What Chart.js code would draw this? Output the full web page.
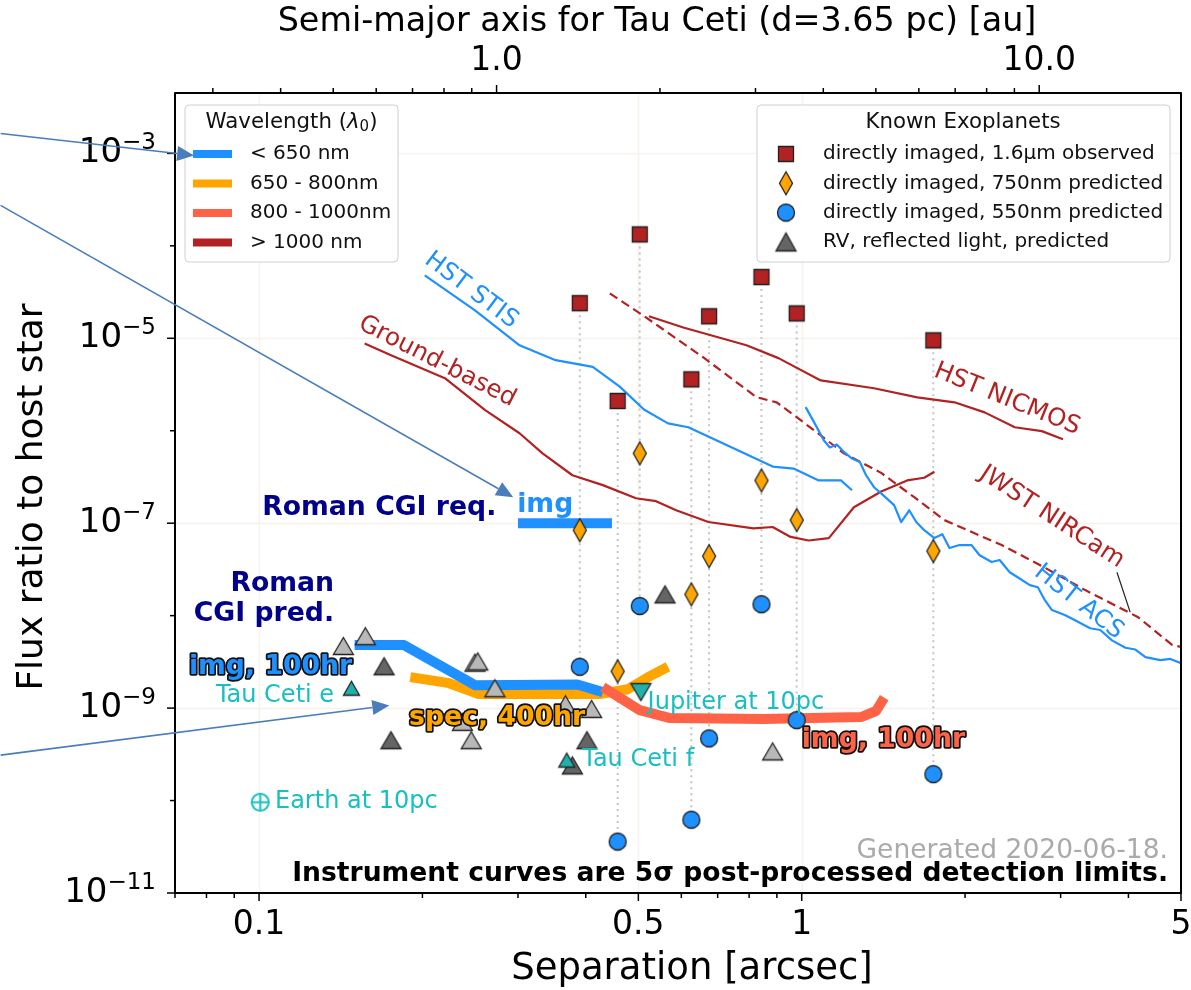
<!DOCTYPE html>
<html>
<head>
<meta charset="utf-8">
<script src="https://cdn.jsdelivr.net/npm/chart.js@4.4.1/dist/chart.umd.min.js"></script>
<style>
  html, body { margin: 0; padding: 0; background: #fff; }
  canvas { display: block; }
</style>
</head>
<body>
<canvas id="chart" width="1191" height="990"></canvas>
<script>
// ---------- data (separation in arcsec, flux ratio) ----------
const planetSep  = [0.390, 0.458, 0.503, 0.626, 0.675, 0.843, 0.979, 1.748];
const observed16 = [2.4e-5, 2.1e-6, 1.33e-4, 3.6e-6, 1.73e-5, 4.6e-5, 1.86e-5, 9.5e-6];
const pred750    = [8.4e-8, 2.5e-9, 5.7e-7, 1.7e-8, 4.4e-8, 2.9e-7, 1.08e-7, 5.0e-8];
const pred550    = [2.8e-9, 3.6e-11, 1.27e-8, 6.2e-11, 4.7e-10, 1.33e-8, 7.4e-10, 1.93e-10];

const rvLightSep  = [0.143, 0.157, 0.250, 0.253, 0.272, 0.246, 0.237, 0.367, 0.410, 0.884];
const rvLightFlux = [4.7e-9, 6.0e-9, 3.1e-9, 3.2e-9, 1.64e-9, 4.5e-10, 7.1e-10, 1.1e-9, 9.8e-10, 3.4e-10];
const rvDarkSep   = [0.170, 0.175, 0.402, 0.378, 0.560];
const rvDarkFlux  = [2.84e-9, 4.5e-10, 4.5e-10, 2.4e-10, 1.7e-8];
const tauCetiSep  = [0.148, 0.369];
const tauCetiFlux = [1.64e-9, 2.74e-10];
const jupiterSep  = [0.5055];
const jupiterFlux = [1.49e-9];
const earthSep    = [0.1005];
const earthFlux   = [9.6e-11];

const stisSep  = [0.202, 0.250, 0.302, 0.352, 0.412, 0.462, 0.512, 0.567, 0.618, 0.696, 0.822, 0.884, 0.966, 1.075, 1.181, 1.238];
const stisFlux = [4.8e-5, 2.0e-5, 8.4e-6, 5.8e-6, 4.9e-6, 3.0e-6, 1.7e-6, 1.2e-6, 1.09e-6, 7.9e-7, 5.0e-7, 4.1e-7, 3.9e-7, 2.9e-7, 2.9e-7, 2.27e-7];

const groundSep  = [0.1565, 0.1755, 0.220, 0.261, 0.302, 0.333, 0.378, 0.430, 0.495, 0.539, 0.587, 0.673, 0.815, 0.884, 0.954, 1.03, 1.122, 1.248, 1.401, 1.564, 1.682, 1.756];
const groundFlux = [8.8e-6, 6.5e-6, 3.7e-6, 1.67e-6, 9.4e-7, 5.7e-7, 3.3e-7, 2.58e-7, 1.86e-7, 1.73e-7, 1.38e-7, 1.03e-7, 8.8e-8, 9.1e-8, 7.1e-8, 6.5e-8, 6.9e-8, 1.49e-7, 2.2e-7, 2.9e-7, 3.1e-7, 3.6e-7];

const nicmosSep  = [0.523, 0.605, 0.791, 0.906, 1.084, 1.359, 1.633, 1.912, 2.173, 2.47, 2.77, 3.03];
const nicmosFlux = [1.73e-5, 1.31e-5, 8.4e-6, 6.1e-6, 3.5e-6, 2.88e-6, 2.3e-6, 2.03e-6, 1.58e-6, 1.09e-6, 9.9e-7, 8.1e-7];

const nircamSep  = [0.443, 0.510, 0.659, 0.826, 0.899, 0.979, 1.084, 1.196, 1.401, 1.612, 1.832, 2.336, 2.806, 3.33, 4.17, 4.82, 5.0];
const nircamFlux = [3.06e-5, 1.77e-5, 6.2e-6, 2.3e-6, 2.03e-6, 1.4e-6, 8.9e-7, 5.7e-7, 3.5e-7, 1.91e-7, 1.08e-7, 5.8e-8, 3.3e-8, 1.89e-8, 9.6e-9, 4.8e-9, 4.6e-9];

const acsSep  = [1.017, 1.061, 1.098, 1.127, 1.161, 1.196, 1.238, 1.28, 1.314, 1.359, 1.401, 1.48, 1.525, 1.578, 1.626, 1.682, 1.756, 1.816, 1.872, 1.953, 2.056, 2.127, 2.239, 2.316, 2.417, 2.5, 2.633, 2.724, 2.806, 2.892, 3.06, 3.19, 3.40, 3.55, 3.73, 3.95, 4.12, 4.30, 4.58, 4.78, 5.0];
const acsFlux = [1.8e-6, 1.15e-6, 7.9e-7, 6.6e-7, 7.1e-7, 5.9e-7, 5.0e-7, 4.6e-7, 3.3e-7, 2.45e-7, 2.1e-7, 1.57e-7, 1.03e-7, 1.38e-7, 1.03e-7, 8.4e-8, 6.9e-8, 7.6e-8, 5.4e-8, 5.8e-8, 5.8e-8, 4.5e-8, 3.8e-8, 4.0e-8, 2.95e-8, 2.6e-8, 2.14e-8, 2.03e-8, 1.47e-8, 1.15e-8, 1.01e-8, 8.9e-9, 7.3e-9, 7.0e-9, 5.4e-9, 4.5e-9, 4.3e-9, 3.56e-9, 3.3e-9, 3.4e-9, 3.06e-9];
const acsLeaderSep  = [3.81, 4.03];
const acsLeaderFlux = [2.95e-8, 1.09e-8];

const cgiReqSep   = [0.30, 0.447];
const cgiReqFlux  = [1e-7, 1e-7];
const cgiImgSep   = [0.150, 0.185, 0.250, 0.386, 0.430];
const cgiImgFlux  = [4.8e-9, 4.8e-9, 1.77e-9, 1.8e-9, 1.49e-9];
const cgiSpecSep  = [0.190, 0.224, 0.254, 0.424, 0.478, 0.521, 0.567];
const cgiSpecFlux = [2.16e-9, 1.86e-9, 1.42e-9, 1.42e-9, 1.6e-9, 2.16e-9, 2.8e-9];
const cgiRedSep   = [0.430, 0.503, 0.572, 0.85, 1.286, 1.371, 1.419];
const cgiRedFlux  = [1.69e-9, 9.5e-10, 7.8e-10, 7.6e-10, 8.0e-10, 9.3e-10, 1.3e-9];

// axes
const xMin = 0.07, xMax = 5, yMin = 1e-11, yMax = 4.5e-3, distPc = 3.65;
const xMajorTicks = [0.1, 0.5, 1, 5];
const xMajorLabels = ['0.1', '0.5', '1', '5'];
const xMinorTicks = [0.07, 0.08, 0.09, 0.2, 0.3, 0.4, 0.6, 0.7, 0.8, 0.9, 2, 3, 4];
const auMajorTicks = [1, 10];
const auMajorLabels = ['1.0', '10.0'];
const auMinorTicks = [0.3, 0.4, 0.5, 0.6, 0.7, 0.8, 0.9, 2, 3, 4, 5, 6, 7, 8, 9];
const yMajorExp = [-3, -5, -7, -9, -11];
const yMinorExp = [-4, -6, -8, -10];

const wavelengthLabels = ['< 650 nm', '650 - 800nm', '800 - 1000nm', '> 1000 nm'];
const wavelengthColors = ['#1e90ff', '#ffa500', '#ff6347', '#b22222'];
const planetLegendLabels = ['directly imaged, 1.6\u00b5m observed', 'directly imaged, 750nm predicted',
  'directly imaged, 550nm predicted', 'RV, reflected light, predicted'];

// labels placed in data coordinates: [text, sep, flux, angle, color]
const curveLabels = [
  ['HST STIS', 0.246, 3.3e-5, 37, '#1e90ff'],
  ['Ground-based', 0.213, 5.6e-6, 27, '#b22222'],
  ['HST NICMOS', 2.39, 2.19e-6, 22, '#b22222'],
  ['JWST NIRCam', 2.89, 1.16e-7, 33, '#b22222'],
  ['HST ACS', 3.24, 1.4e-8, 38, '#1e90ff']
];
const FONT = '"DejaVu Sans", sans-serif';
const TEAL_TEXT = '#17bfbf';
const TEAL = '#20b2aa';

// arrows: [fromSep, fromFlux, toSep, toFlux]
const arrows = [
  [0.0334, 1.64e-3, 0.0759, 9.5e-4],
  [0.0334, 2.74e-4, 0.294, 1.91e-7],
  [0.0334, 3.1e-10, 0.1738, 1.07e-9]
];

function pts(xs, ys) { return xs.map((x, i) => ({ x: x, y: ys[i] })); }

function makeMarker(shape, w, h, fill, edge, lw) {
  const c = document.createElement('canvas');
  c.width = Math.ceil(w + 2 * lw + 2);
  c.height = Math.ceil(h + 2 * lw + 2);
  const g = c.getContext('2d');
  const cx = c.width / 2, cy = c.height / 2;
  g.beginPath();
  if (shape === 'square') g.rect(cx - w / 2, cy - h / 2, w, h);
  else if (shape === 'circle') g.ellipse(cx, cy, w / 2, h / 2, 0, 0, Math.PI * 2);
  else if (shape === 'diamond') {
    g.moveTo(cx, cy - h / 2); g.lineTo(cx + w / 2, cy); g.lineTo(cx, cy + h / 2); g.lineTo(cx - w / 2, cy);
  } else if (shape === 'tri') {
    g.moveTo(cx, cy - h / 2); g.lineTo(cx + w / 2, cy + h / 2); g.lineTo(cx - w / 2, cy + h / 2);
  } else if (shape === 'trid') {
    g.moveTo(cx - w / 2, cy - h / 2); g.lineTo(cx + w / 2, cy - h / 2); g.lineTo(cx, cy + h / 2);
  }
  g.closePath();
  if (fill) { g.fillStyle = fill; g.fill(); }
  g.lineWidth = lw; g.strokeStyle = edge; g.stroke();
  if (shape === 'circle' && !fill) {
    g.beginPath();
    g.moveTo(cx - w / 2, cy); g.lineTo(cx + w / 2, cy);
    g.moveTo(cx, cy - h / 2); g.lineTo(cx, cy + h / 2);
    g.stroke();
  }
  return c;
}

const mkSquare = makeMarker('square', 15, 15, '#b22222', '#222', 1.3);
const mkDiamond = makeMarker('diamond', 13, 23, '#ffa500', '#222', 1.3);
const mkCircle = makeMarker('circle', 17, 17, '#1e90ff', '#222', 1.3);
const mkTriLight = makeMarker('tri', 20, 17, '#b8b8b8', '#222', 1.3);
const mkTriDark = makeMarker('tri', 20, 17, '#656565', '#222', 1.3);
const mkTriTeal = makeMarker('tri', 16, 14, TEAL, '#222', 1.3);
const mkTriDown = makeMarker('trid', 20, 17, TEAL, '#222', 1.3);
const mkEarth = makeMarker('circle', 17, 17, null, TEAL_TEXT, 2);
const mkLegTri = makeMarker('tri', 20, 18, '#656565', '#222', 1.3);

// dotted guide lines from highest to lowest prediction of each imaged planet
const guide = [];
planetSep.forEach((s, i) => {
  const v = [observed16[i], pred750[i], pred550[i]];
  guide.push({ x: s, y: Math.max(...v) }, { x: s, y: Math.min(...v) }, { x: s, y: null });
});

function markerSet(data, img, order) {
  return { data: data, pointStyle: img, pointRadius: 8, pointHoverRadius: 8, order: order, showLine: false };
}
function lineSet(data, color, width, order, dash) {
  return {
    data: data, showLine: true, borderColor: color, borderWidth: width, pointRadius: 0, pointHoverRadius: 0,
    borderDash: dash || [], borderJoinStyle: 'round', borderCapStyle: 'butt', fill: false, tension: 0, order: order
  };
}

const datasets = [
  markerSet(pts(planetSep, observed16), mkSquare, 1),
  markerSet(pts(planetSep, pred750), mkDiamond, 1),
  markerSet(pts(planetSep, pred550), mkCircle, 1),
  markerSet(pts(rvLightSep, rvLightFlux), mkTriLight, 2),
  markerSet(pts(rvDarkSep, rvDarkFlux), mkTriDark, 2),
  markerSet(pts(tauCetiSep, tauCetiFlux), mkTriTeal, 1),
  markerSet(pts(jupiterSep, jupiterFlux), mkTriDown, 1),
  markerSet(pts(earthSep, earthFlux), mkEarth, 1),
  lineSet(pts(cgiReqSep, cgiReqFlux), '#1e90ff', 10, 4),
  lineSet(pts(cgiRedSep, cgiRedFlux), '#ff6347', 10, 4),
  lineSet(pts(cgiImgSep, cgiImgFlux), '#1e90ff', 10, 5),
  lineSet(pts(cgiSpecSep, cgiSpecFlux), '#ffa500', 10, 5),
  lineSet(pts(stisSep, stisFlux), '#1e90ff', 2.2, 6),
  lineSet(pts(acsSep, acsFlux), '#1e90ff', 2.2, 6),
  lineSet(pts(groundSep, groundFlux), '#b22222', 2.2, 6),
  lineSet(pts(nicmosSep, nicmosFlux), '#b22222', 2.2, 6),
  lineSet(pts(nircamSep, nircamFlux), '#b22222', 2.2, 6, [9, 5]),
  lineSet(pts(acsLeaderSep, acsLeaderFlux), '#222', 1.2, 6),
  Object.assign(lineSet(guide, '#c4c4c4', 2, 8, [2, 4]), { spanGaps: false })
];

function outlined(ctx, text, x, y, fill) {
  ctx.lineJoin = 'round';
  ctx.lineWidth = 3.5;
  ctx.strokeStyle = '#111';
  ctx.strokeText(text, x, y);
  ctx.fillStyle = fill;
  ctx.fillText(text, x, y);
}

const decor = {
  id: 'decor',
  beforeDatasetsDraw(chart) {
    const { ctx, chartArea: a, scales: { x, y } } = chart;
    ctx.save();
    ctx.strokeStyle = '#f6f3ec';
    ctx.lineWidth = 1.5;
    xMajorTicks.forEach(v => {
      const p = Math.round(x.getPixelForValue(v)) + 0.5;
      ctx.beginPath(); ctx.moveTo(p, a.top); ctx.lineTo(p, a.bottom); ctx.stroke();
    });
    yMajorExp.forEach(e => {
      const p = Math.round(y.getPixelForValue(Math.pow(10, e))) + 0.5;
      ctx.beginPath(); ctx.moveTo(a.left, p); ctx.lineTo(a.right, p); ctx.stroke();
    });
    ctx.restore();
  },
  afterDatasetsDraw(chart) {
    const { ctx, chartArea: a, scales: { x, y, x2 } } = chart;
    const P = (s, f) => [x.getPixelForValue(s), y.getPixelForValue(f)];
    ctx.save();
    ctx.textBaseline = 'middle';

    // curve labels
    ctx.font = '24.5px ' + FONT;
    ctx.textAlign = 'center';
    curveLabels.forEach(([t, s, f, ang, col]) => {
      const [px, py] = P(s, f);
      ctx.save();
      ctx.translate(px, py);
      ctx.rotate(ang * Math.PI / 180);
      ctx.fillStyle = col;
      ctx.fillText(t, 0, 0);
      ctx.restore();
    });

    // Roman CGI labels
    ctx.font = 'bold 26.7px ' + FONT;
    ctx.fillStyle = '#00008b';
    ctx.textAlign = 'right';
    let q = P(0.2737, 1.45e-7); ctx.fillText('Roman CGI req.', q[0], q[1]);
    q = P(0.1375, 2.19e-8); ctx.fillText('Roman', q[0], q[1]);
    q = P(0.1375, 1.04e-8); ctx.fillText('CGI pred.', q[0], q[1]);
    ctx.textAlign = 'left';
    ctx.fillStyle = '#1e90ff';
    q = P(0.299, 1.57e-7); ctx.fillText('img', q[0], q[1]);
    ctx.textAlign = 'right';
    q = P(0.1485, 2.77e-9); outlined(ctx, 'img, 100hr', q[0], q[1], '#1e90ff');
    ctx.textAlign = 'left';
    q = P(0.189, 7.8e-10); outlined(ctx, 'spec, 400hr', q[0], q[1], '#ffa500');
    q = P(1.0, 4.5e-10); outlined(ctx, 'img, 100hr', q[0], q[1], '#ff6347');

    // planet names
    ctx.font = '24px ' + FONT;
    ctx.fillStyle = TEAL_TEXT;
    ctx.textAlign = 'right';
    q = P(0.1375, 1.35e-9); ctx.fillText('Tau Ceti e', q[0], q[1]);
    ctx.textAlign = 'left';
    q = P(0.520, 1.13e-9); ctx.fillText('Jupiter at 10pc', q[0], q[1]);
    q = P(0.394, 2.74e-10); ctx.fillText('Tau Ceti f', q[0], q[1]);
    q = P(0.107, 9.6e-11); ctx.fillText('Earth at 10pc', q[0], q[1]);

    // footnotes
    ctx.textAlign = 'right';
    ctx.font = '26.5px ' + FONT;
    ctx.fillStyle = '#aaaaaa';
    ctx.fillText('Generated 2020-06-18.', a.right - 13, a.bottom - 42);
    ctx.font = 'bold 26.6px ' + FONT;
    ctx.fillStyle = '#000';
    ctx.fillText('Instrument curves are 5\u03c3 post-processed detection limits.', a.right - 13, a.bottom - 19);

    // spines
    ctx.strokeStyle = '#000';
    ctx.lineWidth = 2;
    ctx.strokeRect(a.left, a.top, a.right - a.left, a.bottom - a.top);

    // ticks
    ctx.lineWidth = 1.5;
    const tick = (x0, y0, x1, y1) => { ctx.beginPath(); ctx.moveTo(x0, y0); ctx.lineTo(x1, y1); ctx.stroke(); };
    xMajorTicks.forEach(v => { const p = x.getPixelForValue(v); tick(p, a.bottom, p, a.bottom + 8); });
    xMinorTicks.forEach(v => { const p = x.getPixelForValue(v); tick(p, a.bottom, p, a.bottom + 5); });
    auMajorTicks.forEach(v => { const p = x2.getPixelForValue(v); tick(p, a.top, p, a.top - 8); });
    auMinorTicks.forEach(v => { const p = x2.getPixelForValue(v); tick(p, a.top, p, a.top - 5); });
    yMajorExp.forEach(e => { const p = y.getPixelForValue(Math.pow(10, e)); tick(a.left, p, a.left - 8, p); });
    yMinorExp.forEach(e => { const p = y.getPixelForValue(Math.pow(10, e)); tick(a.left, p, a.left - 5, p); });

    // tick labels
    ctx.fillStyle = '#000';
    ctx.font = '33px ' + FONT;
    ctx.textAlign = 'center';
    xMajorTicks.forEach((v, i) => ctx.fillText(xMajorLabels[i], x.getPixelForValue(v), a.bottom + 32));
    auMajorTicks.forEach((v, i) => ctx.fillText(auMajorLabels[i], x2.getPixelForValue(v), a.top - 32));
    yMajorExp.forEach(e => {
      const p = y.getPixelForValue(Math.pow(10, e));
      const sup = '\u2212' + Math.abs(e);
      ctx.font = '23px ' + FONT;
      const ws = ctx.measureText(sup).width;
      ctx.textAlign = 'right';
      ctx.fillText(sup, a.left - 19, p - 10);
      ctx.font = '34px ' + FONT;
      ctx.fillText('10', a.left - 19 - ws, p);
    });

    // axis titles
    ctx.textAlign = 'center';
    ctx.font = '37px ' + FONT;
    ctx.fillText('Separation [arcsec]', 692, a.bottom + 76);
    ctx.font = '33.4px ' + FONT;
    ctx.fillText('Semi-major axis for Tau Ceti (d=3.65 pc) [au]', 657, a.top - 71);
    ctx.save();
    ctx.translate(33, 497);
    ctx.rotate(-Math.PI / 2);
    ctx.font = '36px ' + FONT;
    ctx.fillText('Flux ratio to host star', 0, 0);
    ctx.restore();

    // wavelength legend
    const l1 = { x: a.left + 10, y: a.top + 12, w: 213, h: 157 };
    ctx.fillStyle = 'rgba(255,255,255,0.85)';
    ctx.strokeStyle = '#d0d0d0';
    ctx.lineWidth = 1;
    ctx.beginPath(); ctx.roundRect(l1.x, l1.y, l1.w, l1.h, 4); ctx.fill(); ctx.stroke();
    ctx.fillStyle = '#111';
    ctx.textAlign = 'left';
    const t1 = 'Wavelength (', t3 = ')';
    ctx.font = '21.3px ' + FONT; const w1 = ctx.measureText(t1).width;
    ctx.font = 'italic 21.3px ' + FONT; const w2 = ctx.measureText('\u03bb').width;
    ctx.font = '15px ' + FONT; const w3 = ctx.measureText('0').width;
    ctx.font = '21.3px ' + FONT; const w4 = ctx.measureText(t3).width;
    let tx = l1.x + l1.w / 2 - (w1 + w2 + w3 + w4) / 2;
    const ty = l1.y + 17;
    ctx.fillText(t1, tx, ty); tx += w1;
    ctx.font = 'italic 21.3px ' + FONT; ctx.fillText('\u03bb', tx, ty); tx += w2;
    ctx.font = '15px ' + FONT; ctx.fillText('0', tx, ty + 5); tx += w3;
    ctx.font = '21.3px ' + FONT; ctx.fillText(t3, tx, ty);
    ctx.font = '20px ' + FONT;
    wavelengthLabels.forEach((lab, i) => {
      const ry = l1.y + 49 + i * 29.5;
      ctx.strokeStyle = wavelengthColors[i];
      ctx.lineWidth = 8;
      ctx.beginPath(); ctx.moveTo(l1.x + 8, ry); ctx.lineTo(l1.x + 47, ry); ctx.stroke();
      ctx.fillStyle = '#111';
      ctx.fillText(lab, l1.x + 65, ry);
    });

    // exoplanet legend
    const l2 = { x: a.right - 424, y: a.top + 12, w: 413, h: 157 };
    ctx.fillStyle = 'rgba(255,255,255,0.85)';
    ctx.strokeStyle = '#d0d0d0';
    ctx.lineWidth = 1;
    ctx.beginPath(); ctx.roundRect(l2.x, l2.y, l2.w, l2.h, 4); ctx.fill(); ctx.stroke();
    ctx.fillStyle = '#111';
    ctx.textAlign = 'center';
    ctx.font = '21.3px ' + FONT;
    ctx.fillText('Known Exoplanets', l2.x + 206, l2.y + 17);
    ctx.textAlign = 'left';
    ctx.font = '20px ' + FONT;
    const legImgs = [mkSquare, mkDiamond, mkCircle, mkLegTri];
    planetLegendLabels.forEach((lab, i) => {
      const ry = l2.y + 49 + i * 29.3;
      const im = legImgs[i];
      ctx.drawImage(im, l2.x + 29 - im.width / 2, ry - im.height / 2);
      ctx.fillText(lab, l2.x + 66, ry);
    });

    // arrows
    ctx.strokeStyle = '#4a7dbb';
    ctx.fillStyle = '#4a7dbb';
    ctx.lineWidth = 1.6;
    arrows.forEach(([s0, f0, s1, f1]) => {
      const [x0, y0] = P(s0, f0), [x1, y1] = P(s1, f1);
      const ang = Math.atan2(y1 - y0, x1 - x0);
      const hl = 17, hw = 7.5;
      const bx = x1 - hl * Math.cos(ang), by = y1 - hl * Math.sin(ang);
      ctx.beginPath(); ctx.moveTo(x0, y0); ctx.lineTo(bx, by); ctx.stroke();
      ctx.beginPath();
      ctx.moveTo(x1, y1);
      ctx.lineTo(bx - hw * Math.sin(ang), by + hw * Math.cos(ang));
      ctx.lineTo(bx + hw * Math.sin(ang), by - hw * Math.cos(ang));
      ctx.closePath(); ctx.fill();
    });
    ctx.restore();
  }
};

new Chart(document.getElementById('chart'), {
  type: 'scatter',
  data: { datasets: datasets },
  options: {
    responsive: false,
    animation: false,
    devicePixelRatio: 1,
    layout: { padding: { left: 175, right: 10, top: 93, bottom: 97 } },
    plugins: { legend: { display: false }, tooltip: { enabled: false } },
    events: [],
    scales: {
      x: { type: 'logarithmic', position: 'bottom', min: xMin, max: xMax, display: false },
      x2: { type: 'logarithmic', axis: 'x', position: 'top', min: xMin * distPc, max: xMax * distPc, display: false },
      y: { type: 'logarithmic', min: yMin, max: yMax, display: false }
    }
  },
  plugins: [decor]
});
</script>
</body>
</html>
